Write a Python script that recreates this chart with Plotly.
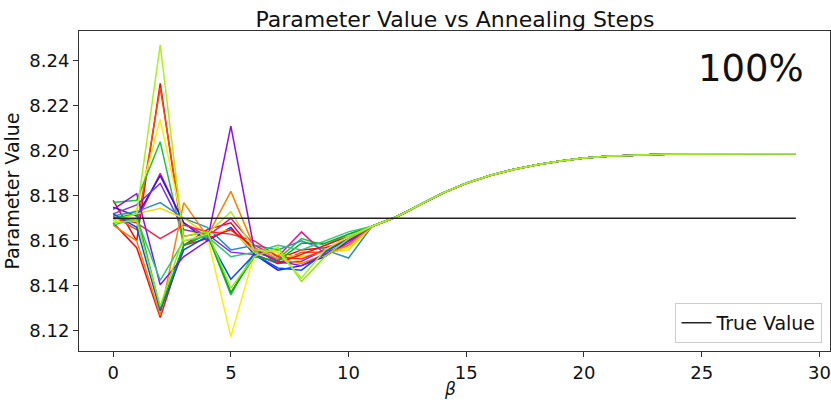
import plotly.graph_objects as go

beta = list(range(30))
true_value = 8.170

# Shared tail of every run (beta = 11..29)
tail = [8.1665, 8.1705, 8.1760, 8.1812, 8.1856, 8.1890, 8.1917, 8.1938, 8.1955,
        8.1968, 8.1976, 8.1981, 8.1984, 8.1986, 8.1987, 8.1987, 8.1987, 8.1987, 8.1987]

# Early part of each run (beta = 0..10)
run_red = [8.178, 8.160, 8.230, 8.158, 8.165, 8.168, 8.155, 8.152, 8.156, 8.157, 8.160]
run_orangered = [8.171, 8.165, 8.228, 8.162, 8.164, 8.137, 8.154, 8.150, 8.155, 8.155, 8.158]
run_yellow = [8.168, 8.174, 8.214, 8.165, 8.162, 8.1175, 8.154, 8.156, 8.150, 8.154, 8.157]
run_green = [8.177, 8.178, 8.204, 8.158, 8.163, 8.136, 8.155, 8.152, 8.161, 8.158, 8.163]
run_magenta = [8.170, 8.169, 8.190, 8.168, 8.162, 8.170, 8.158, 8.153, 8.164, 8.154, 8.159]
run_blue = [8.175, 8.171, 8.189, 8.168, 8.160, 8.166, 8.154, 8.147, 8.149, 8.153, 8.160]
run_purple = [8.172, 8.176, 8.1855, 8.165, 8.163, 8.155, 8.154, 8.150, 8.151, 8.156, 8.160]
run_teal = [8.171, 8.173, 8.177, 8.170, 8.166, 8.156, 8.158, 8.156, 8.160, 8.156, 8.1524]
run_gold = [8.169, 8.172, 8.1745, 8.170, 8.163, 8.165, 8.155, 8.154, 8.153, 8.155, 8.156]
run_red2 = [8.170, 8.168, 8.161, 8.167, 8.164, 8.163, 8.160, 8.153, 8.152, 8.156, 8.161]
run_crimson = [8.168, 8.157, 8.126, 8.158, 8.161, 8.165, 8.157, 8.150, 8.154, 8.158, 8.162]
run_orange = [8.167, 8.160, 8.127, 8.177, 8.162, 8.182, 8.157, 8.152, 8.150, 8.154, 8.158]
run_blue2 = [8.172, 8.166, 8.129, 8.156, 8.162, 8.143, 8.154, 8.148, 8.147, 8.155, 8.161]
run_green2 = [8.170, 8.172, 8.130, 8.158, 8.163, 8.137, 8.153, 8.151, 8.159, 8.159, 8.163]
run_violet = [8.174, 8.181, 8.1405, 8.153, 8.160, 8.211, 8.156, 8.151, 8.149, 8.154, 8.160]
run_seagreen = [8.167, 8.170, 8.1425, 8.160, 8.162, 8.153, 8.155, 8.158, 8.156, 8.160, 8.164]
run_lime = [8.168, 8.169, 8.131, 8.162, 8.164, 8.139, 8.153, 8.157, 8.142, 8.153, 8.161]
run_chartreuse = [8.169, 8.172, 8.247, 8.160, 8.163, 8.173, 8.156, 8.155, 8.1435, 8.156, 8.162]

runs = [
    (run_red, "#ff0000"),
    (run_orangered, "#ff4800"),
    (run_yellow, "#ffee00"),
    (run_green, "#20c040"),
    (run_magenta, "#f01890"),
    (run_blue, "#1a1aff"),
    (run_purple, "#8a2be2"),
    (run_teal, "#2a8fbd"),
    (run_gold, "#f5d800"),
    (run_red2, "#ff2040"),
    (run_crimson, "#ff0a0a"),
    (run_orange, "#ff7f00"),
    (run_blue2, "#0050ff"),
    (run_green2, "#00b020"),
    (run_violet, "#8a10f0"),
    (run_seagreen, "#30c878"),
    (run_lime, "#88ee00"),
    (run_chartreuse, "#a8f020"),
]

fig = go.Figure()
for early, color in runs:
    fig.add_trace(go.Scatter(x=beta, y=early + tail, mode="lines",
                             line=dict(color=color, width=1.5), showlegend=False,
                             hoverinfo="skip"))

fig.add_trace(go.Scatter(x=[beta[0], beta[-1]], y=[true_value, true_value], mode="lines",
                         line=dict(color="#222222", width=1.5), name="True Value"))

font_family = "DejaVu Sans"
fig.update_layout(
    width=831, height=400,
    margin=dict(l=79, r=1, t=31, b=49),
    plot_bgcolor="white", paper_bgcolor="white",
    font=dict(family=font_family, size=18, color="#111111"),
    title=dict(text="Parameter Value vs Annealing Steps", x=0.5475, xanchor="center",
               y=0.953, yanchor="middle", font=dict(size=22, color="#111111")),
    xaxis=dict(range=[-1.45, 30.45], tickmode="array", tickvals=[0, 5, 10, 15, 20, 25, 30],
               showgrid=False, zeroline=False, showline=True, linecolor="#333333",
               linewidth=1, mirror=True, ticks="outside", ticklen=5, tickcolor="#333333"),
    yaxis=dict(range=[8.1111, 8.2532], tickmode="array",
               tickvals=[8.12, 8.14, 8.16, 8.18, 8.20, 8.22, 8.24],
               ticktext=["8.12", "8.14", "8.16", "8.18", "8.20", "8.22", "8.24"],
               showgrid=False, zeroline=False, showline=True, linecolor="#333333",
               linewidth=1, mirror=True, ticks="outside", ticklen=5, tickcolor="#333333",
               title=dict(text="Parameter Value", font=dict(size=19), standoff=4)),
    legend=dict(x=0.99, xanchor="right", y=0.025, yanchor="bottom",
                bordercolor="#cccccc", borderwidth=1, bgcolor="rgba(255,255,255,0.8)",
                font=dict(size=19)),
    annotations=[
        dict(text="100%", xref="paper", yref="paper", x=0.895, y=0.884,
             xanchor="center", yanchor="middle", showarrow=False,
             font=dict(size=37, color="#111111")),
        dict(text="<i>β</i>", xref="paper", yref="paper", x=0.494, y=-0.12,
             xanchor="center", yanchor="middle", showarrow=False,
             font=dict(size=17, color="#111111")),
    ],
)

fig.write_html("out.html")
